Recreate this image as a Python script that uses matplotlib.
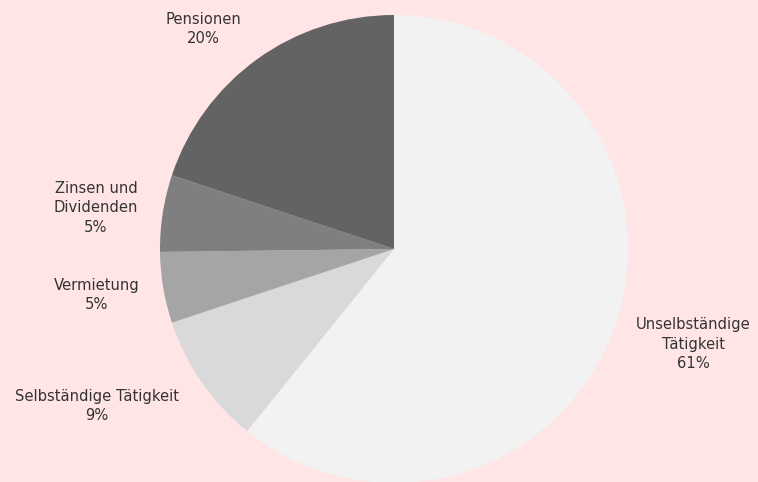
import matplotlib.pyplot as plt

# Einkommensquellen (Anteile in %)
categories = ['Unselbständige\nTätigkeit', 'Selbständige Tätigkeit', 'Vermietung',
              'Zinsen und\nDividenden', 'Pensionen']
shares = [60.8, 9.1, 4.9, 5.3, 19.9]
colors = ['#f2f2f2', '#d9d9d9', '#a5a5a5', '#7f7f7f', '#636363']

# label block centres in pixel coords (x, y from top)
label_pos = [(693, 344), (97, 406), (97, 295), (96, 208), (203, 29)]

W, H = 758, 482
bg = '#ffe5e5'

fig = plt.figure(figsize=(W / 100, H / 100), dpi=100, facecolor=bg)
ax = fig.add_axes([0, 0, 1, 1])
ax.set_facecolor(bg)

ax.pie(shares, colors=colors, startangle=90, counterclock=False,
       center=(394, H - 249), radius=234, frame=True,
       wedgeprops={'linewidth': 0})

for name, val, (x, y) in zip(categories, shares, label_pos):
    ax.text(x, H - y, '%s\n%.0f%%' % (name, val), ha='center', va='center',
            multialignment='center', fontsize=10.6, color='#333333',
            family='DejaVu Sans', linespacing=1.38)

ax.set_xlim(0, W)
ax.set_ylim(0, H)
ax.set_aspect('equal')
ax.axis('off')

fig.savefig('out.png', dpi=100, facecolor=bg)
